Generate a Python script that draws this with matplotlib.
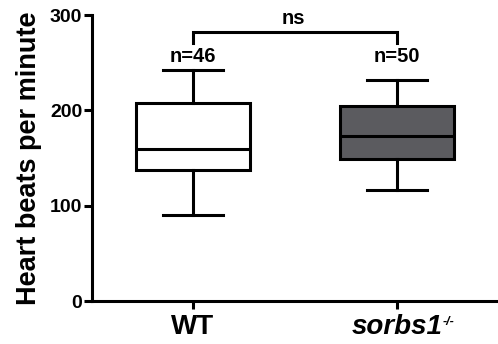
import matplotlib

matplotlib.use("Agg")
import matplotlib.pyplot as plt

# Values (heart beats per minute)
groups = ["WT", "sorbs1"]
group_styles = ["normal", "italic"]
group_sup = ["", "-/-"]
n_labels = ["n=46", "n=50"]
whis_lo = [90, 117]
q1 = [138, 149]
medians = [159, 173]
q3 = [208, 205]
whis_hi = [242, 232]
box_colors = ["white", "#5b5b5f"]
y_ticks = [0, 100, 200, 300]
bracket_y = 282
bracket_drop = 11
n_label_y = 251
sig_text = "ns"
sig_y = 291

plt.rcParams["font.family"] = ["Liberation Sans", "DejaVu Sans"]
plt.rcParams["font.weight"] = "bold"

INK = "black"
LW = 2.2

fig = plt.figure(figsize=(4.98, 3.44), dpi=100)
ax = fig.add_axes([0.1847, 0.125, 0.8153, 0.831])

positions = [1, 2]
stats = [
    {"med": m, "q1": a, "q3": b, "whislo": lo, "whishi": hi, "fliers": []}
    for m, a, b, lo, hi in zip(medians, q1, q3, whis_lo, whis_hi)
]
art = ax.bxp(
    stats,
    positions=positions,
    widths=0.56,
    patch_artist=True,
    showfliers=False,
    boxprops=dict(linewidth=LW, edgecolor=INK),
    medianprops=dict(linewidth=LW, color=INK),
    whiskerprops=dict(linewidth=LW, color=INK),
    capprops=dict(linewidth=LW, color=INK),
    capwidths=0.29,
)
for patch, c in zip(art["boxes"], box_colors):
    patch.set_facecolor(c)

for x, txt in zip(positions, n_labels):
    ax.text(x, n_label_y, txt, ha="center", va="baseline", fontsize=14.5,
            fontweight="bold", color=INK)

# significance bracket
ax.plot([positions[0], positions[0], positions[1], positions[1]],
        [bracket_y - bracket_drop, bracket_y, bracket_y, bracket_y - bracket_drop],
        color=INK, linewidth=LW, clip_on=False, solid_joinstyle="miter")
ax.text(sum(positions) / 2 - 0.01, sig_y, sig_text, ha="center", va="baseline",
        fontsize=14.5, fontweight="bold", color=INK, clip_on=False)

ax.set_xlim(0.505, 2.495)
ax.set_ylim(0, 300)
ax.set_yticks(y_ticks)
ax.set_xticks(positions)
ax.set_xticklabels(groups, fontsize=20, fontweight="bold")
ax.tick_params(axis="y", labelsize=14, width=LW, length=6, pad=1, colors=INK)
ax.tick_params(axis="x", width=LW, length=6, pad=3, colors=INK)
for lab in ax.get_yticklabels():
    lab.set_fontweight("bold")
for lab, st, sup in zip(ax.get_xticklabels(), group_styles, group_sup):
    lab.set_fontstyle(st)
    if sup:
        ax.annotate(sup, xy=(1, 1), xycoords=lab, xytext=(0.5, -2),
                    textcoords="offset points", ha="left", va="top",
                    fontsize=9, fontweight="bold", fontstyle="italic", color=INK,
                    annotation_clip=False)
ax.set_ylabel("Heart beats per minute", fontsize=19.5, fontweight="bold", labelpad=6)

for side in ("top", "right"):
    ax.spines[side].set_visible(False)
for side in ("left", "bottom"):
    ax.spines[side].set_linewidth(LW)
    ax.spines[side].set_color(INK)

fig.savefig("out.png", dpi=100, facecolor="white")
